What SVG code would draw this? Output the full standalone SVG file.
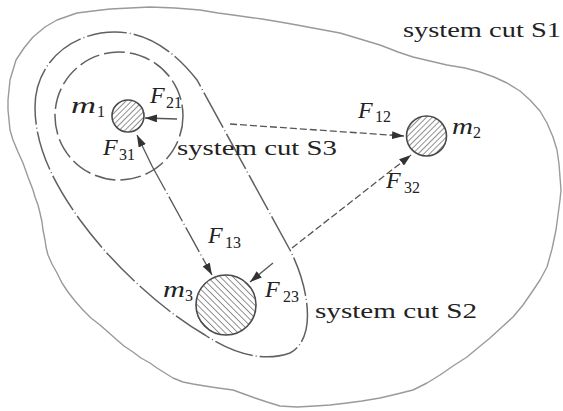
<svg xmlns="http://www.w3.org/2000/svg" width="563" height="411" viewBox="0 0 563 411">
  <style>
    .cut1 { fill: none; stroke: #9a9a9a; stroke-width: 1.4; stroke-linejoin: round; }
    .cut2 { fill: none; stroke: #606060; stroke-width: 1.5; stroke-dasharray: 40 3 1 3; }
    .cut3 { fill: none; stroke: #606060; stroke-width: 1.5; stroke-dasharray: 21 5; }
    .mass { stroke: #4a4a4a; stroke-width: 1.6; }
    .force { fill: none; stroke: #555; stroke-width: 1.3; }
    .dashdot { stroke-dasharray: 28 3 1 3; }
    .dashed { stroke-dasharray: 7 3; }
    text { font-family: "Liberation Serif", "Times New Roman", serif; fill: #222; }
    .lbl { font-size: 22px; }
    .math { font-size: 24px; font-style: italic; }
    .sub { font-size: 16px; font-style: normal; }
  </style>
  <defs>
    <marker id="arrow" viewBox="0 0 12 8" refX="12" refY="4" markerWidth="12" markerHeight="8" markerUnits="userSpaceOnUse" orient="auto">
      <path d="M0,0 L12,4 L0,8 Z" fill="#333"/>
    </marker>
    <pattern id="hatchR" width="4" height="4" patternUnits="userSpaceOnUse" patternTransform="rotate(45)">
      <rect width="4" height="4" fill="#fff"/>
      <line x1="0" y1="0" x2="0" y2="4" stroke="#555" stroke-width="1.3"/>
    </pattern>
    <pattern id="hatchL" width="4.5" height="4.5" patternUnits="userSpaceOnUse" patternTransform="rotate(-45)">
      <rect width="4.5" height="4.5" fill="#fff"/>
      <line x1="0" y1="0" x2="0" y2="4.5" stroke="#555" stroke-width="1.3"/>
    </pattern>
  </defs>

  <rect width="563" height="411" fill="#fff"/>

  <g id="cut-S1">
    <path class="cut1" d="M10,80 L16,60 L24,48 L33,37 L45,27 L57,20 L77,13 L93,11 L110,9 L130,8 L150,7 L175,8 L200,10 L218,13 L233,15 L262,19 L280,22 L297,25 L313,28 L340,33 L360,39 L380,45 L398,52 L413,57 L430,61 L447,65 L465,68 L480,72 L494,77 L507,83 L520,91 L530,100 L540,111 L547,123 L553,137 L557,150 L559,164 L560,177 L561,190 L560,200 L558,215 L556,230 L552,249 L547,267 L540,280 L532,292 L523,305 L513,317 L502,327 L490,338 L479,347 L467,357 L453,366 L440,375 L427,383 L413,390 L397,394 L380,398 L362,401 L347,403 L330,405 L315,406 L297,407 L280,406 L267,402 L255,398 L244,394 L233,390 L218,388 L205,386 L193,384 L183,382 L173,378 L165,373 L157,368 L150,363 L141,358 L133,352 L124,346 L117,340 L108,332 L100,325 L91,318 L83,310 L75,301 L68,292 L62,283 L57,273 L52,264 L48,255 L46,247 L45,240 L43,230 L42,222 L40,213 L38,205 L35,197 L33,190 L28,177 L23,163 L18,152 L13,140 L10,130 L9,120 L8,110 L8,100 L9,90 Z"/>
    <text class="lbl" x="403" y="37" textLength="158" lengthAdjust="spacingAndGlyphs">system cut S1</text>
  </g>

  <g id="cut-S2">
    <path class="cut2" d="M35,107 C35,62 72,32 115,32 C148,32 175,52 197,80 L290,250 C308,285 318,338 290,353 C265,362 235,355 205,335 C165,312 115,268 80,220 C55,185 35,148 35,107 Z"/>
    <text class="lbl" x="315" y="318" textLength="162" lengthAdjust="spacingAndGlyphs">system cut S2</text>
  </g>

  <g id="cut-S3">
    <circle class="cut3" cx="119" cy="116" r="64"/>
    <text class="lbl" x="177" y="155" textLength="160" lengthAdjust="spacingAndGlyphs">system cut S3</text>
  </g>

  <g id="connectors">
    <line id="F21" class="force" x1="177" y1="119" x2="145" y2="118" marker-end="url(#arrow)"/>
    <line id="F31" class="force" x1="152" y1="166" x2="137" y2="135" marker-end="url(#arrow)"/>
    <line id="F13" class="force dashdot" x1="152" y1="166" x2="212" y2="275" marker-end="url(#arrow)"/>
    <line id="F12" class="force dashed" x1="230" y1="124" x2="404" y2="136" marker-end="url(#arrow)"/>
    <line id="F32" class="force dashed" x1="292" y1="248" x2="411" y2="155" marker-end="url(#arrow)"/>
    <line id="F23" class="force" x1="273" y1="263" x2="250" y2="282" marker-end="url(#arrow)"/>
  </g>

  <g id="m1">
    <circle class="mass" cx="128" cy="116" r="16" fill="url(#hatchR)"/>
    <text class="math" x="71" y="113" textLength="25" lengthAdjust="spacingAndGlyphs">m</text>
    <text class="sub" x="97" y="117">1</text>
  </g>

  <g id="m2">
    <circle class="mass" cx="426.5" cy="136" r="20" fill="url(#hatchR)"/>
    <text class="math" x="452" y="134" textLength="21" lengthAdjust="spacingAndGlyphs">m</text>
    <text class="sub" x="473" y="138">2</text>
  </g>

  <g id="m3">
    <circle class="mass" cx="226" cy="305" r="30" fill="url(#hatchL)"/>
    <text class="math" x="163" y="297" textLength="22" lengthAdjust="spacingAndGlyphs">m</text>
    <text class="sub" x="185" y="301">3</text>
  </g>

  <g id="force-labels">
    <text class="math" x="150" y="103">F</text><text class="sub" x="166" y="108">21</text>
    <text class="math" x="103" y="155">F</text><text class="sub" x="119" y="160">31</text>
    <text class="math" x="358" y="118">F</text><text class="sub" x="375" y="122">12</text>
    <text class="math" x="386" y="188">F</text><text class="sub" x="404" y="193">32</text>
    <text class="math" x="208" y="243">F</text><text class="sub" x="225" y="248">13</text>
    <text class="math" x="265" y="297">F</text><text class="sub" x="283" y="302">23</text>
  </g>
</svg>
